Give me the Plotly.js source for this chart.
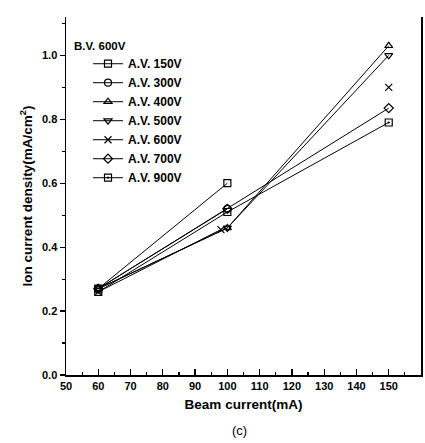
<!DOCTYPE html>
<html>
<head>
<meta charset="utf-8">
<script src="https://cdn.plot.ly/plotly-3.0.1.min.js"></script>
<style>html,body{margin:0;padding:0;background:#fff;}#chart{width:425px;height:443px;}</style>
</head>
<body>
<div id="chart"></div>
<script>
// Data
const seriesNames = ["A.V. 150V", "A.V. 300V", "A.V. 400V", "A.V. 500V", "A.V. 600V", "A.V. 700V", "A.V. 900V"];
const beam150 = [60, 100];
const dens150 = [0.27, 0.60];
const beam300 = [60, 100];
const dens300 = [0.27, 0.52];
const beam400 = [60, 100, 150];
const dens400 = [0.27, 0.46, 1.03];
const beam500 = [60, 100, 150];
const dens500 = [0.27, 0.46, 1.00];
const beam600 = [60, 98, null, 150];
const dens600 = [0.26, 0.455, null, 0.90];
const beam700 = [60, 100, 150];
const dens700 = [0.27, 0.52, 0.835];
const beam900 = [60, 100, 150];
const dens900 = [0.26, 0.51, 0.79];
const xTicks = [50, 60, 70, 80, 90, 100, 110, 120, 130, 140, 150, 160];
const yTicks = [0.0, 0.2, 0.4, 0.6, 0.8, 1.0];
const yTickText = ["0.0", "0.2", "0.4", "0.6", "0.8", "1.0"];

const xs = [beam150, beam300, beam400, beam500, beam600, beam700, beam900];
const ys = [dens150, dens300, dens400, dens500, dens600, dens700, dens900];
const symbols = ["square-open", "circle-open", "triangle-up-open", "triangle-down-open", "x-thin-open", "diamond-open", "square-open-dot"];

const fontFam = "Liberation Sans, Arial, sans-serif";
const traces = seriesNames.map((n, i) => ({
  x: xs[i], y: ys[i], name: n, type: "scatter", mode: "lines+markers",
  line: {color: "#000", width: 1},
  marker: {symbol: symbols[i], size: 7, color: "#000", line: {color: "#000", width: 1.2}},
  connectgaps: false
}));

const layout = {
  width: 425, height: 443,
  margin: {l: 66, r: 4, t: 17, b: 68},
  paper_bgcolor: "#fff", plot_bgcolor: "#fff",
  font: {family: fontFam, size: 11, color: "#000"},
  showlegend: true,
  legend: {
    x: 0.062, y: 0.91, xanchor: "left", yanchor: "top",
    bgcolor: "rgba(0,0,0,0)", borderwidth: 0,
    font: {family: fontFam, size: 12, color: "#000", weight: "bold"},
    tracegroupgap: 0
  },
  xaxis: {
    range: [50, 160], showgrid: false, zeroline: false,
    showline: true, linecolor: "#000", linewidth: 1.5,
    ticks: "inside", ticklen: 6, tickwidth: 1.2, tickcolor: "#000",
    tickvals: xTicks, ticktext: xTicks.map(String),
    minor: {dtick: 5, tick0: 50, ticks: "inside", ticklen: 3, tickcolor: "#000", showgrid: false},
    tickfont: {family: fontFam, size: 11, color: "#000", weight: "bold"},
    title: {text: "<b>Beam current(mA)</b>", font: {family: fontFam, size: 13.5, color: "#000"}, standoff: 9}
  },
  yaxis: {
    range: [0, 1.12], showgrid: false, zeroline: false,
    showline: true, linecolor: "#000", linewidth: 1.5, mirror: true,
    ticks: "outside", ticklen: 5, tickwidth: 1.2, tickcolor: "#000",
    tickvals: yTicks, ticktext: yTickText,
    minor: {dtick: 0.1, tick0: 0, ticks: "outside", ticklen: 3, tickcolor: "#000", showgrid: false},
    tickfont: {family: fontFam, size: 11, color: "#000", weight: "bold"},
    title: {text: "<b>Ion current density(mA/cm<sup>2</sup>)</b>", font: {family: fontFam, size: 13.5, color: "#000"}, standoff: 6}
  },
  annotations: [{
    text: "<b>B.V. 600V</b>", xref: "paper", yref: "paper", x: 0.017, y: 0.919,
    xanchor: "left", yanchor: "middle", showarrow: false,
    font: {family: fontFam, size: 11.5, color: "#000"}
  }, {
    text: "(c)", xref: "paper", yref: "paper", x: 0.49, y: -0.155,
    xanchor: "center", yanchor: "middle", showarrow: false,
    font: {family: fontFam, size: 13, color: "#000"}
  }]
};

Plotly.newPlot("chart", traces, layout, {displayModeBar: false, staticPlot: true});
</script>
</body>
</html>
